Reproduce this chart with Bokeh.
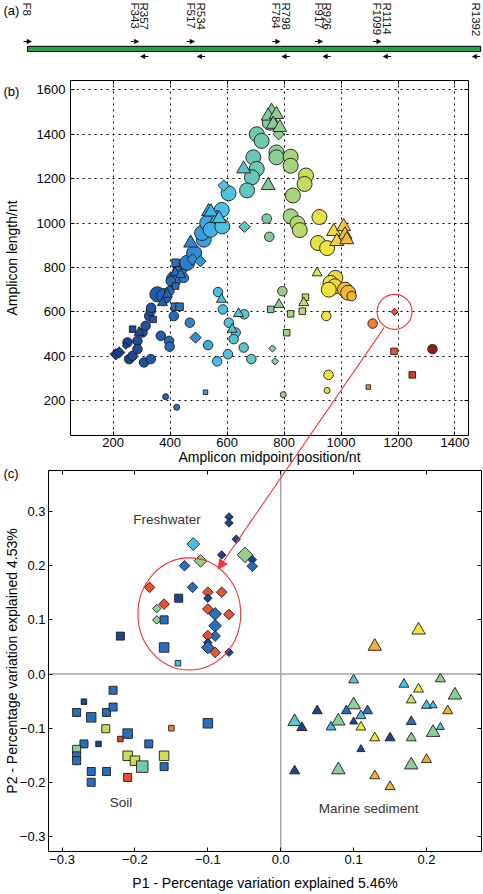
import math
import numpy as np
from bokeh.plotting import figure
from bokeh.layouts import column
from bokeh.models import (ColumnDataSource, Range1d, FixedTicker, Span, Label, GridBox, LinearAxis,
                          Arrow, NormalHead, CustomJSTickFormatter)
from bokeh.transform import linear_cmap
from bokeh.embed import file_html
from bokeh.resources import INLINE
from bokeh.core.properties import value

# ======================================================================= DATA
# (a) primer map
primer_names = ["F8", "F343", "R357", "F517", "R534", "F784", "R798",
                "F917", "R926", "F1099", "R1114", "R1392"]
gene_span = [0, 1414]

# (b) amplicon midpoint position (nt), amplicon length (nt), abundance class
b_circle_x = [256, 268, 308, 332, 250, 285, 285, 303, 314, 326, 332, 367, 396, 398, 413,
              355, 379, 333, 397, 413, 402, 443, 448, 425, 454, 460, 484, 518, 512, 530,
              542, 583, 581, 605, 469, 533, 565, 568, 585, 606, 630, 623, 660, 658, 603,
              685, 384, 423, 750, 704, 721, 773, 773, 823, 823, 692, 704, 687, 670, 877,
              872, 831, 739, 748, 823, 847, 855, 924, 919, 951, 980, 963, 978, 957, 1014,
              1025, 1037, 794, 948, 1111, 956, 951, 797, 1321]
b_circle_y = [387, 402, 372, 387, 462, 469, 432, 507, 537, 581, 604, 492, 469, 443, 581,
              679, 671, 618, 693, 746, 738, 791, 753, 783, 813, 821, 865, 925, 955, 1000,
              970, 985, 1059, 1134, 551, 450, 377, 689, 611, 551, 507, 477, 589, 439, 409,
              387, 218, 170, 1452, 1400, 1370, 1318, 1296, 1299, 1258, 1296, 1244, 1206, 1147, 1214,
              1176, 1124, 1020, 938, 1030, 998, 968, 1027, 910, 887, 753, 730, 715, 700, 700,
              686, 671, 693, 581, 547, 316, 246, 227, 432]
b_circle_w = [2, 2, 2, 2, 2, 2, 2, 2, 2, 2, 2, 2, 2, 2, 2,
              3, 3, 2, 2, 3, 2, 2, 2, 2, 2, 3, 3, 3, 3, 3,
              3, 3, 3, 3, 2, 2, 2, 2, 2, 2, 2, 2, 2, 2, 2,
              2, 1, 1, 3, 3, 3, 3, 3, 3, 3, 3, 3, 3, 3, 3,
              3, 3, 2, 2, 3, 3, 3, 3, 3, 3, 3, 3, 3, 3, 3,
              3, 2, 2, 2, 2, 2, 1, 1, 2]

b_tri_x = [291, 373, 390, 417, 437, 472, 535, 564, 543, 572, 580, 618, 640, 658, 744,
           756, 744, 773, 762, 785, 974, 1009, 1014, 985, 1020, 916, 782, 869]
b_tri_y = [507, 641, 679, 776, 768, 910, 1052, 1022, 1050, 1020, 656, 521, 592, 1244, 1169,
           1504, 1482, 1489, 1445, 1430, 962, 984, 947, 917, 925, 775, 633, 641]
b_tri_w = [2, 2, 2, 2, 2, 3, 3, 3, 3, 3, 2, 2, 2, 3, 3,
           3, 3, 3, 3, 3, 3, 3, 3, 3, 3, 2, 2, 2]

b_sq_x = [268, 340, 417, 433, 419, 419, 753, 823, 875, 864, 809, 524, 1096, 1186, 1250]
b_sq_y = [522, 566, 623, 623, 716, 821, 611, 591, 666, 603, 506, 238, 261, 422, 316]
b_sq_w = [2, 2, 3, 3, 2, 3, 2, 2, 2, 2, 2, 1, 1, 2, 2]

b_dia_x = [209, 221, 244, 489, 478, 506, 588, 661, 781, 759, 768, 1188]
b_dia_y = [409, 417, 447, 484, 836, 828, 1169, 983, 1400, 435, 377, 600]
b_dia_w = [2, 2, 1, 2, 2, 2, 2, 2, 2, 1, 1, 1]

b_highlight = (1188, 600)          # circled amplicon, linked to panel (c)

# (c) PCoA scores; colour value = amplicon midpoint of the region sequenced
c_fw_x = [-0.071, -0.071, -0.061, -0.081, -0.120, -0.110, -0.132, -0.121, -0.180, -0.160,
          -0.170, -0.170, -0.100, -0.100, -0.081, -0.100, -0.090, -0.071, -0.090, -0.090,
          -0.100, -0.100, -0.100, -0.090, -0.071, -0.049, -0.039, -0.039]
c_fw_y = [0.290, 0.279, 0.249, 0.220, 0.240, 0.209, 0.200, 0.160, 0.160, 0.129,
          0.121, 0.100, 0.151, 0.140, 0.151, 0.120, 0.111, 0.110, 0.089, 0.070,
          0.071, 0.058, 0.049, 0.040, 0.040, 0.220, 0.211, 0.199]
c_fw_v = [260, 260, 260, 260, 560, 770, 420, 420, 1190, 1190,
          800, 800, 1190, 260, 1190, 1190, 420, 1190, 420, 420,
          1190, 260, 420, 1190, 260, 790, 260, 420]
c_fw_w = [1, 1, 1, 1, 3, 3, 2, 2, 2, 2,
          1, 1, 2, 1, 2, 2, 3, 2, 3, 2,
          2, 1, 3, 2, 1, 4, 1, 2]

c_soil_x = [-0.140, -0.160, -0.160, -0.141, -0.220, -0.230, -0.270, -0.280, -0.260, -0.239,
            -0.230, -0.240, -0.210, -0.220, -0.270, -0.250, -0.280, -0.280, -0.280, -0.210,
            -0.200, -0.190, -0.181, -0.160, -0.160, -0.260, -0.239, -0.260, -0.210, -0.150,
            -0.100]
c_soil_y = [0.140, 0.100, 0.049, 0.020, 0.070, -0.030, -0.051, -0.071, -0.080, -0.071,
            -0.061, -0.101, -0.110, -0.120, -0.129, -0.129, -0.139, -0.151, -0.160, -0.151,
            -0.160, -0.171, -0.129, -0.151, -0.171, -0.180, -0.180, -0.200, -0.191, -0.100,
            -0.091]
c_soil_v = [260, 420, 420, 560, 260, 420, 260, 420, 420, 420,
            420, 870, 420, 1230, 420, 260, 780, 420, 420, 880,
            890, 720, 420, 890, 420, 420, 420, 420, 1200, 1100,
            420]
c_soil_w = [2, 2, 3, 1, 2, 2, 1, 2, 3, 2,
            2, 2, 3, 1, 2, 1, 2, 2, 2, 3,
            3, 4, 2, 3, 2, 2, 2, 2, 2, 1,
            3]

c_mar_x = [0.189, 0.129, 0.100, 0.169, 0.189, 0.219, 0.239, 0.179, 0.200, 0.209,
           0.229, 0.100, 0.050, 0.090, 0.119, 0.110, 0.019, 0.029, 0.069, 0.079,
           0.100, 0.110, 0.179, 0.219, 0.209, 0.129, 0.150, 0.179, 0.110, 0.019,
           0.079, 0.179, 0.200, 0.129, 0.150]
c_mar_y = [0.081, 0.051, -0.011, -0.019, -0.028, -0.009, -0.039, -0.048, -0.058, -0.058,
           -0.068, -0.057, -0.068, -0.068, -0.068, -0.077, -0.088, -0.099, -0.098, -0.087,
           -0.088, -0.098, -0.088, -0.098, -0.108, -0.118, -0.118, -0.118, -0.139, -0.179,
           -0.177, -0.168, -0.158, -0.188, -0.208]
c_mar_v = [950, 1040, 650, 580, 950, 770, 770, 890, 570, 570,
           1040, 770, 260, 420, 420, 560, 660, 260, 560, 770,
           260, 950, 420, 660, 770, 960, 260, 770, 260, 260,
           770, 770, 1040, 1040, 1040]
c_mar_w = [3, 3, 2, 2, 2, 2, 3, 2, 2, 1,
           2, 3, 2, 2, 2, 2, 3, 2, 2, 3,
           1, 2, 2, 1, 3, 2, 2, 2, 1, 2,
           3, 3, 2, 2, 2]

c_region_labels = ["Freshwater", "Soil", "Marine sediment"]
c_region_label_x = [-0.156, -0.219, 0.1205]
c_region_label_y = [0.285, -0.237, -0.248]
c_circle_center = (-0.1254, 0.111)
c_circle_size = (0.141, 0.207)

panel_tags = ["(a)", "(b)", "(c)"]

b_xticks = [200, 400, 600, 800, 1000, 1200, 1400]
b_yticks = [200, 400, 600, 800, 1000, 1200, 1400, 1600]
c_xticks = [-0.3, -0.2, -0.1, 0.0, 0.1, 0.2]
c_yticks = [-0.3, -0.2, -0.1, 0.0, 0.1, 0.2, 0.3]

# ======================================================================= STYLE
FONT = "Liberation Sans"
RED = "#ee3636"
EDGE = "#1c1c1c"
CMAP_LOW, CMAP_HIGH = 200, 1340
anchors = [(200, "#1a3a80"), (280, "#1d4b98"), (380, "#2262b3"), (450, "#2b7ac6"),
           (510, "#389bda"), (560, "#48bfec"), (620, "#52c4d8"), (680, "#64c6bb"),
           (760, "#88cb9c"), (830, "#aad47b"), (880, "#c9dd5c"), (930, "#e9e444"),
           (960, "#f5e43a"), (1000, "#f7cb37"), (1050, "#f5a833"), (1110, "#f08038"),
           (1190, "#ea5431"), (1250, "#d83c26"), (1300, "#a82518"), (1340, "#7a1a12")]
_pos = np.array([a[0] for a in anchors], float)
_rgb = np.array([[int(c[i:i + 2], 16) for i in (1, 3, 5)] for _, c in anchors], float)
PALETTE = ["#%02x%02x%02x" % tuple(int(round(np.interp(g, _pos, _rgb[:, k]))) for k in range(3))
           for g in np.linspace(CMAP_LOW, CMAP_HIGH, 256)]

B_CIRCLE_PX = {1: 6, 2: 9.5, 3: 15}
B_TRI_PX = {1: 7, 2: 10, 3: 14}
B_SQ_PX = {1: 4.5, 2: 6.5, 3: 7.5}
B_DIA_PX = {1: 5, 2: 8}
C_DIA_PX = {1: 6, 2: 7.5, 3: 9, 4: 11}
C_SQ_PX = {1: 5.5, 2: 8, 3: 9.5, 4: 11.5}
C_TRI_PX = {1: 8, 2: 10, 3: 13.5}

# layout (page px; the Bokeh page template has no body margin)
PX0, PY0 = 0, 0
W = 483
A_H, B_H, C_H = 62, 405, 427
TOTAL_H = A_H + B_H + C_H
B_ML, B_MR, B_MT, B_MB = 67, 15, 18, 30
C_ML, C_MR, C_MT, C_MB = 45, 2, 3, 43
B_XR, B_YR = (50, 1447.5), (43, 1642)
C_XR, C_YR = (-0.3186, 0.2754), (-0.3277, 0.3758)
A_XR = (-84.2, 1422.8)
A_SHIFT_F, A_SHIFT_R, A_HALF = -8, 8, 12.5
TAG_POS = [(3, 2), (3, 83), (3, 465)]

B_FL, B_FW = PX0 + B_ML, W - B_ML - B_MR
B_FT, B_FH = PY0 + A_H + B_MT, B_H - B_MT - B_MB
C_FL, C_FW = PX0 + C_ML, W - C_ML - C_MR
C_FT, C_FH = PY0 + A_H + B_H + C_MT, C_H - C_MT - C_MB


def b_to_page(x, y):
    return (B_FL + (x - B_XR[0]) / (B_XR[1] - B_XR[0]) * B_FW,
            B_FT + (B_YR[1] - y) / (B_YR[1] - B_YR[0]) * B_FH)


def c_to_page(x, y):
    return (C_FL + (x - C_XR[0]) / (C_XR[1] - C_XR[0]) * C_FW,
            C_FT + (C_YR[1] - y) / (C_YR[1] - C_YR[0]) * C_FH)


def a_y(py):
    return A_H - (py - PY0)


def ov(px, py):          # page px -> overlay coordinates
    return px - PX0, TOTAL_H - (py - PY0)


def style_frame(p, xt, yt, fmt=None):
    p.outline_line_color = "black"
    p.outline_line_width = 1
    p.outline_line_alpha = 1
    xa, ya = p.below[0], p.left[0]
    for ax in (xa, ya):
        ax.major_tick_in = 4
        ax.major_tick_out = 0
        ax.minor_tick_line_color = None
        ax.axis_line_color = None
        ax.major_tick_line_color = "black"
        ax.major_label_text_font = FONT
        ax.major_label_text_font_size = "13px"
        ax.major_label_text_color = "black"
        ax.axis_label_text_font = FONT
        ax.axis_label_text_font_size = "14px"
        ax.axis_label_text_font_style = "normal"
        ax.axis_label_text_color = "black"
        if fmt is not None:
            ax.formatter = fmt
    xa.ticker = FixedTicker(ticks=xt)
    ya.ticker = FixedTicker(ticks=yt)
    for loc, ticks in (("above", xt), ("right", yt)):
        p.add_layout(LinearAxis(ticker=FixedTicker(ticks=ticks), major_tick_in=4, major_tick_out=0,
                                minor_tick_line_color=None, axis_line_color=None,
                                major_label_text_font_size="0px", major_label_standoff=0,
                                formatter=CustomJSTickFormatter(code="return ''")), loc)
    return xa, ya


cmap_x = linear_cmap("x", PALETTE, CMAP_LOW, CMAP_HIGH)
cmap_v = linear_cmap("v", PALETTE, CMAP_LOW, CMAP_HIGH)

# ======================================================================= (a)
pA = figure(width=W, height=A_H, x_range=Range1d(*A_XR), y_range=Range1d(0, A_H),
            output_backend="svg", toolbar_location=None, min_border=0,
            x_axis_type=None, y_axis_type=None, outline_line_color=None)
pA.grid.visible = False
pA.quad(left=[gene_span[0]], right=[gene_span[1]], bottom=[a_y(51.0)], top=[a_y(45.8)],
        fill_color="#1fa34a", line_color="black", line_width=1)
pos = [int(n[1:]) for n in primer_names]
is_f = [n.startswith("F") for n in primer_names]
centers = [p_ + (A_SHIFT_F if f else A_SHIFT_R) for p_, f in zip(pos, is_f)]
arr_src = ColumnDataSource(dict(
    xs=[c - A_HALF if f else c + A_HALF for c, f in zip(centers, is_f)],
    xe=[c + A_HALF if f else c - A_HALF for c, f in zip(centers, is_f)],
    ys=[a_y(41.0) if f else a_y(56.0) for f in is_f]))
pA.add_layout(Arrow(x_start="xs", y_start="ys", x_end="xe", y_end="ys", source=arr_src,
                    line_color="black", line_width=1.2,
                    end=NormalHead(size=4.5, fill_color="black", line_color="black", line_width=0.5)))
pA.text(x=centers, y=[a_y(2)] * len(centers), text=primer_names, angle=-math.pi / 2,
        text_align="left", text_baseline="middle", text_font=value(FONT),
        text_font_size="11.5px", text_color="#111111")

# ======================================================================= (b)
pB = figure(width=W, height=B_H, x_range=Range1d(*B_XR), y_range=Range1d(*B_YR),
            output_backend="svg", toolbar_location=None,
            min_border_left=B_ML, min_border_right=B_MR, min_border_top=B_MT, min_border_bottom=B_MB)
bxa, bya = style_frame(pB, b_xticks, b_yticks)
bxa.axis_label = "Amplicon midpoint position/nt"
bya.axis_label = "Amplicon length/nt"
bxa.major_label_standoff = 2
bxa.axis_label_standoff = -1
bya.major_label_standoff = 5
bya.axis_label_standoff = 14
pB.xgrid.ticker = FixedTicker(ticks=b_xticks)
pB.ygrid.ticker = FixedTicker(ticks=b_yticks)
pB.grid.grid_line_color = "black"
pB.grid.grid_line_dash = "2 4"
pB.grid.grid_line_width = 1

pB.scatter(x="x", y="y", size="s", marker="circle", line_color=EDGE, line_width=0.9, fill_color=cmap_x,
           source=ColumnDataSource(dict(x=b_circle_x, y=b_circle_y, s=[B_CIRCLE_PX[w] for w in b_circle_w])))
pB.scatter(x="x", y="y", size="s", marker="square", line_color=EDGE, line_width=0.9, fill_color=cmap_x,
           source=ColumnDataSource(dict(x=b_sq_x, y=b_sq_y, s=[B_SQ_PX[w] for w in b_sq_w])))
pB.scatter(x="x", y="y", size="s", marker="square", angle=math.pi / 4, line_color=EDGE, line_width=0.9,
           fill_color=cmap_x,
           source=ColumnDataSource(dict(x=b_dia_x, y=b_dia_y, s=[B_DIA_PX[w] for w in b_dia_w])))
pB.scatter(x="x", y="y", size="s", marker="triangle", line_color=EDGE, line_width=0.9, fill_color=cmap_x,
           source=ColumnDataSource(dict(x=b_tri_x, y=b_tri_y, s=[B_TRI_PX[w] for w in b_tri_w])))
RING_D = 35
pB.scatter(x=[b_highlight[0]], y=[b_highlight[1]], size=RING_D, marker="circle",
           fill_color=None, line_color=RED, line_width=1.1)

# ======================================================================= (c)
fmt_c = CustomJSTickFormatter(code="return tick.toFixed(1).replace('-', '\u2212');")
pC = figure(width=W, height=C_H, x_range=Range1d(*C_XR), y_range=Range1d(*C_YR),
            output_backend="svg", toolbar_location=None,
            min_border_left=C_ML, min_border_right=C_MR, min_border_top=C_MT, min_border_bottom=C_MB)
cxa, cya = style_frame(pC, c_xticks, c_yticks, fmt_c)
pC.grid.visible = False
cxa.axis_label = "P1 - Percentage variation explained 5.46%"
cya.axis_label = "P2 - Percentage variation explained 4.53%"
cxa.major_label_standoff = 3
cxa.axis_label_standoff = 8
cya.major_label_standoff = 3
cya.axis_label_standoff = -3
for dim in ("width", "height"):
    pC.add_layout(Span(location=0, dimension=dim, line_color="#a3a3a3", line_width=1.4, level="underlay"))

pC.scatter(x="x", y="y", size="s", marker="square", angle=math.pi / 4, line_color=EDGE, line_width=0.9,
           fill_color=cmap_v,
           source=ColumnDataSource(dict(x=c_fw_x, y=c_fw_y, v=c_fw_v, s=[C_DIA_PX[w] for w in c_fw_w])))
pC.scatter(x="x", y="y", size="s", marker="square", line_color=EDGE, line_width=0.9, fill_color=cmap_v,
           source=ColumnDataSource(dict(x=c_soil_x, y=c_soil_y, v=c_soil_v, s=[C_SQ_PX[w] for w in c_soil_w])))
pC.scatter(x="x", y="y", size="s", marker="triangle", line_color=EDGE, line_width=0.9, fill_color=cmap_v,
           source=ColumnDataSource(dict(x=c_mar_x, y=c_mar_y, v=c_mar_v, s=[C_TRI_PX[w] for w in c_mar_w])))
pC.ellipse(x=[c_circle_center[0]], y=[c_circle_center[1]], width=[c_circle_size[0]],
           height=[c_circle_size[1]], fill_color=None, line_color=RED, line_width=1.1)
for t, x, y in zip(c_region_labels, c_region_label_x, c_region_label_y):
    pC.add_layout(Label(x=x, y=y, text=t, text_align="center", text_baseline="middle",
                        text_font=FONT, text_font_size="13.5px", text_color="#333333"))

# ================================================ transparent overlay (tags + link arrow)
pO = figure(width=W, height=TOTAL_H, x_range=Range1d(0, W), y_range=Range1d(0, TOTAL_H),
            output_backend="svg", toolbar_location=None, min_border=0,
            x_axis_type=None, y_axis_type=None, outline_line_color=None,
            background_fill_color=None, border_fill_color=None)
pO.grid.visible = False

P0 = np.array(b_to_page(*b_highlight))
Ec = np.array(c_to_page(*c_circle_center))
rx = c_circle_size[0] / (C_XR[1] - C_XR[0]) * C_FW / 2
ry = c_circle_size[1] / (C_YR[1] - C_YR[0]) * C_FH / 2
d = Ec - P0
S = ((P0[0] - Ec[0]) / rx) ** 2 + ((P0[1] - Ec[1]) / ry) ** 2
tip = P0 + (1 - 1 / math.sqrt(S)) * d
u = d / np.linalg.norm(d)
start = P0 + u * (RING_D / 2)
(sx, sy), (ex, ey) = ov(*start), ov(*tip)
pO.add_layout(Arrow(x_start=sx, y_start=sy, x_end=ex, y_end=ey,
                    end=NormalHead(size=9, fill_color=RED, line_color=RED, line_width=1),
                    line_color=RED, line_width=1.1))
tx, ty = zip(*[ov(*p_) for p_ in TAG_POS])
pO.text(x=list(tx), y=list(ty), text=panel_tags, text_align="left", text_baseline="top",
        text_font=value(FONT), text_font_size="13px", text_color="black")

layout = GridBox(children=[(column(pA), 0, 0), (column(pB), 1, 0), (column(pC), 2, 0),
                           (column(pO), 0, 0, 3, 1)], spacing=0)
with open("out.html", "w", encoding="utf-8") as f:
    f.write(file_html(layout, INLINE))
